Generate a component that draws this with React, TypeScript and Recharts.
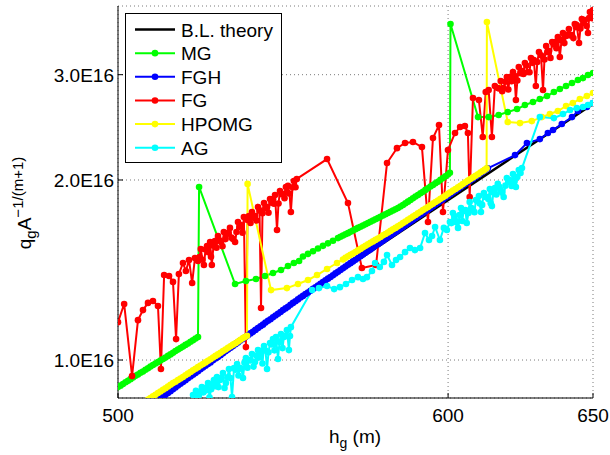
import React from 'react';
import { LineChart, Line, XAxis, YAxis, CartesianGrid } from 'recharts';

type Pt = [number, number];

// x: h_g (m), y: q_g A^(-1/(m+1)) in units of 1E16
const X_TICKS = [500, 600, 650];
const Y_TICKS = [1, 2, 3];
const Y_TICK_LABELS = ['1.0E16', '2.0E16', '3.0E16'];
const X_DOMAIN: [number, number] = [500, 650];
const Y_DOMAIN: [number, number] = [0.864, 3.908];

const SERIES_NAMES = ['B.L. theory', 'MG', 'FGH', 'FG', 'HPOMG', 'AG'];
const SERIES_COLORS = ['#000000', '#00ff00', '#0000ff', '#ff0000', '#ffff00', '#00ffff'];

const BL_THEORY: Pt[] = [[506.1, 0.842], [568.3, 1.44], [650, 2.68]];

const MG: Pt[] = [
  [500.0, 0.901], [500.69, 0.906], [501.38, 0.912], [502.08, 0.918], [502.77, 0.923], [503.47, 0.929],
  [504.16, 0.935], [504.86, 0.941], [505.55, 0.946], [506.25, 0.952], [506.95, 0.957], [507.65, 0.963],
  [508.35, 0.969], [509.05, 0.975], [509.75, 0.981], [510.46, 0.987], [511.16, 0.992], [511.87, 0.998],
  [512.58, 1.004], [513.29, 1.01], [514.0, 1.016], [514.71, 1.022], [515.42, 1.028], [516.13, 1.035],
  [516.84, 1.041], [517.56, 1.047], [518.27, 1.053], [518.99, 1.06], [519.71, 1.066], [520.43, 1.073],
  [521.14, 1.079], [521.87, 1.086], [522.59, 1.093],
  [522.9, 1.947],
  [533.4, 1.34], [536.6, 1.356], [539.6, 1.366], [542.3, 1.382], [544.69, 1.398], [547.1, 1.414],
  [549.22, 1.436], [551.0, 1.453], [552.6, 1.464],
  [553.79, 1.49], [555.32, 1.505], [556.86, 1.52], [558.4, 1.536], [559.94, 1.552], [561.49, 1.567],
  [563.04, 1.583], [564.6, 1.599], [565.38, 1.607], [566.16, 1.615], [566.94, 1.623], [567.72, 1.63],
  [568.5, 1.638], [569.29, 1.646], [570.08, 1.655], [570.87, 1.663], [571.66, 1.671], [572.45, 1.679],
  [573.24, 1.687], [574.03, 1.695], [574.82, 1.703], [575.62, 1.711], [576.41, 1.719], [577.21, 1.727],
  [578.0, 1.736], [578.8, 1.744], [579.6, 1.753], [580.4, 1.761], [581.2, 1.77], [582.01, 1.778],
  [582.82, 1.787], [583.62, 1.796], [584.42, 1.806], [585.23, 1.816], [586.04, 1.828], [586.85, 1.84],
  [587.66, 1.852], [588.47, 1.864], [589.28, 1.876], [590.1, 1.888], [590.92, 1.9], [591.73, 1.912],
  [592.55, 1.925], [593.37, 1.937], [594.19, 1.95], [595.01, 1.962], [595.83, 1.975], [596.65, 1.987],
  [597.48, 2.001], [598.3, 2.015], [599.13, 2.029], [599.96, 2.042], [600.6, 2.056],
  [600.8, 3.646],
  [610.0, 2.548], [613.6, 2.548], [617.0, 2.568], [620.1, 2.598], [623.3, 2.628], [626.0, 2.669],
  [628.8, 2.7], [631.2, 2.732], [633.7, 2.763], [636.1, 2.806], [638.2, 2.839], [640.4, 2.872],
  [642.5, 2.905], [644.6, 2.939], [646.4, 2.961], [648.2, 2.996], [650.0, 3.019],
];

const FGH: Pt[] = [
  [511.16, 0.858], [511.87, 0.864], [512.58, 0.87], [513.29, 0.875], [514.0, 0.881], [514.71, 0.887],
  [515.42, 0.894], [516.13, 0.9], [516.84, 0.907], [517.56, 0.913], [518.27, 0.919], [518.99, 0.925],
  [519.71, 0.932], [520.43, 0.939], [521.14, 0.945], [521.87, 0.951], [522.59, 0.958], [523.31, 0.965],
  [524.03, 0.972], [524.76, 0.978], [525.48, 0.985], [526.21, 0.991], [526.94, 0.999], [527.67, 1.006],
  [528.39, 1.012], [529.12, 1.019], [529.85, 1.026], [530.59, 1.034], [531.32, 1.041], [532.06, 1.048],
  [532.79, 1.055], [533.53, 1.063], [534.26, 1.07], [535.0, 1.078], [535.74, 1.085], [536.48, 1.093],
  [537.22, 1.1], [537.97, 1.108], [538.71, 1.115], [539.46, 1.123], [540.2, 1.131], [540.95, 1.139],
  [541.69, 1.146], [542.44, 1.155], [543.19, 1.163], [543.94, 1.17], [544.69, 1.179], [545.45, 1.187],
  [546.2, 1.195], [546.96, 1.203], [547.71, 1.212], [548.47, 1.22], [549.22, 1.228], [549.98, 1.237],
  [550.74, 1.246], [551.5, 1.254], [552.26, 1.263], [553.03, 1.272], [553.79, 1.28], [554.56, 1.289],
  [555.32, 1.297], [556.09, 1.306], [556.86, 1.315], [557.63, 1.323], [558.4, 1.332], [559.17, 1.341],
  [559.94, 1.35], [560.72, 1.359], [561.49, 1.368], [562.27, 1.377], [563.04, 1.386], [563.82, 1.396],
  [564.6, 1.405], [565.38, 1.414], [566.16, 1.424], [566.94, 1.433], [567.72, 1.443], [568.5, 1.452],
  [569.29, 1.462], [570.08, 1.471], [570.87, 1.481], [571.66, 1.491], [572.45, 1.501], [573.24, 1.511],
  [574.03, 1.521], [574.82, 1.531], [575.62, 1.542], [576.41, 1.552], [577.21, 1.562], [578.0, 1.572],
  [578.8, 1.583], [579.6, 1.593], [580.4, 1.604], [581.2, 1.615], [582.01, 1.626], [582.82, 1.636],
  [583.62, 1.647], [584.42, 1.658], [585.23, 1.669], [586.04, 1.681], [586.85, 1.692], [587.66, 1.703],
  [588.47, 1.714], [589.28, 1.726], [590.1, 1.737], [590.92, 1.749], [591.73, 1.76], [592.55, 1.772],
  [593.37, 1.784], [594.19, 1.796], [595.01, 1.808], [595.83, 1.82], [596.65, 1.832], [597.48, 1.844],
  [598.3, 1.856], [599.13, 1.869], [599.96, 1.881], [600.78, 1.894], [601.6, 1.906], [602.45, 1.919],
  [603.3, 1.932], [604.1, 1.945], [604.9, 1.958], [605.75, 1.971], [606.6, 1.984], [607.45, 1.997],
  [608.3, 2.01], [609.15, 2.024], [610.0, 2.037], [610.8, 2.051], [611.6, 2.064], [612.45, 2.078],
  [613.3, 2.092],
  [622.6, 2.201], [626.7, 2.306], [631.2, 2.341], [634.0, 2.396], [635.8, 2.424], [638.9, 2.481],
  [642.5, 2.548], [644.6, 2.608], [647.8, 2.649], [650.0, 2.69],
];

const FG: Pt[] = [
  [500.0, 1.157], [501.7, 1.241], [503.9, 0.94], [505.55, 1.166], [506.95, 1.212], [508.35, 1.246],
  [509.75, 1.255], [511.16, 1.231], [512.0, 0.966], [512.9, 1.387], [514.3, 1.382], [515.42, 1.351],
  [516.3, 1.084], [517.1, 1.392], [518.27, 1.453], [519.1, 1.409], [520.0, 1.47], [520.9, 1.345],
  [521.7, 1.481],
  [522.59, 1.464], [523.02, 1.487], [523.4, 1.533], [523.89, 1.471], [524.3, 1.442], [524.76, 1.53],
  [525.2, 1.551], [525.63, 1.514], [526.1, 1.575], [526.35, 1.489], [526.6, 1.442], [527.08, 1.553],
  [527.5, 1.581], [527.95, 1.541], [528.39, 1.612], [528.83, 1.585], [529.3, 1.575], [529.71, 1.55],
  [530.1, 1.637], [530.59, 1.593], [531.0, 1.624], [531.47, 1.632], [531.9, 1.663], [532.35, 1.602],
  [532.79, 1.593], [533.4, 1.575], [533.82, 1.637], [534.26, 1.701], [534.7, 1.67], [535.1, 1.682],
  [535.59, 1.633], [536.0, 1.734], [536.6, 1.051], [537.07, 1.715], [537.5, 1.741], [537.97, 1.695],
  [538.4, 1.768], [538.86, 1.73], [539.3, 1.741], [539.75, 1.711], [540.2, 1.802], [540.65, 1.779],
  [541.1, 1.222], [541.54, 1.76], [542.0, 1.83], [542.44, 1.796], [542.9, 1.802], [543.34, 1.763],
  [543.8, 1.859], [544.24, 1.833], [544.69, 1.859], [544.99, 1.825], [545.3, 1.888], [545.9, 1.65],
  [546.35, 1.827], [546.8, 1.917], [547.26, 1.893], [547.71, 1.895], [548.17, 1.865], [548.6, 1.947],
  [548.92, 1.907], [549.22, 1.955], [549.68, 1.898], [550.1, 1.768], [550.59, 1.944], [551.0, 1.992],
  [551.5, 1.945], [551.9, 2.008],
  [561.2, 2.168], [567.72, 1.83], [572.1, 1.425], [576.6, 1.442], [580.1, 2.135], [583.3, 2.261],
  [585.9, 2.306], [588.47, 2.315], [591.4, 2.27], [593.37, 1.701], [595.01, 2.35], [597.0, 2.471],
  [598.3, 1.768], [599.96, 2.244], [602.3, 2.397], [604.0, 2.452], [605.6, 2.462], [606.6, 2.397],
  [607.2, 1.873], [608.3, 2.742], [610.3, 2.721], [611.6, 2.36], [612.6, 2.806], [613.6, 2.828],
  [614.7, 2.36], [615.7, 2.872],
  [616.7, 2.85], [617.2, 2.845], [617.7, 2.927], [618.2, 2.815], [618.7, 2.85], [619.3, 2.919],
  [619.8, 2.973], [620.3, 2.833], [620.8, 2.973], [621.4, 2.926], [621.9, 3.031], [622.4, 2.986],
  [622.9, 2.721], [623.4, 2.933], [623.9, 3.09], [624.5, 3.017], [625.0, 3.043], [625.5, 3.009],
  [626.0, 3.138], [626.5, 3.108], [627.0, 3.031], [627.6, 3.029], [628.1, 3.198], [628.6, 3.14],
  [629.1, 3.174], [629.8, 2.872], [630.3, 3.15], [630.9, 3.274], [631.6, 3.232], [632.3, 2.828],
  [632.8, 3.18], [633.4, 3.35], [633.8, 3.271], [634.4, 3.286], [634.9, 3.2], [635.5, 3.401],
  [636.0, 3.369], [636.5, 3.401], [637.0, 3.322], [637.5, 3.468], [638.2, 3.211], [638.8, 3.423],
  [639.3, 3.522], [639.8, 3.388], [640.4, 3.481], [640.9, 3.499], [641.4, 3.577], [641.9, 3.49],
  [642.5, 3.495], [643.0, 3.454], [643.5, 3.646], [643.9, 3.603], [644.2, 3.632], [645.0, 3.389],
  [645.5, 3.582], [646.0, 3.718], [646.6, 3.657], [647.1, 3.703], [647.7, 3.618], [648.2, 3.522],
  [648.6, 3.731], [648.9, 3.818], [649.5, 3.73], [650.0, 3.848],
];

const HPOMG: Pt[] = [
  [508.35, 0.859], [509.05, 0.864], [509.75, 0.87], [510.46, 0.875], [511.16, 0.881], [511.87, 0.886],
  [512.58, 0.892], [513.29, 0.897], [514.0, 0.903], [514.71, 0.909], [515.42, 0.915], [516.13, 0.92],
  [516.84, 0.926], [517.56, 0.931], [518.27, 0.937], [518.99, 0.943], [519.71, 0.949], [520.43, 0.955],
  [521.14, 0.961], [521.87, 0.967], [522.59, 0.973], [523.31, 0.979], [524.03, 0.985], [524.76, 0.991],
  [525.48, 0.997], [526.21, 1.003], [526.94, 1.01], [527.67, 1.016], [528.39, 1.022], [529.12, 1.028],
  [529.85, 1.035], [530.59, 1.041], [531.32, 1.048], [532.06, 1.054], [532.79, 1.061], [533.53, 1.067],
  [534.26, 1.074], [535.0, 1.081], [535.74, 1.088], [536.33, 1.093], [536.92, 1.098],
  [537.1, 1.97],
  [544.1, 1.309], [548.9, 1.319], [552.26, 1.34], [555.32, 1.361], [558.1, 1.387], [561.2, 1.42],
  [564.3, 1.453],
  [566.16, 1.473], [566.94, 1.482], [567.72, 1.491], [568.5, 1.499], [569.29, 1.507], [570.08, 1.516],
  [570.87, 1.525], [571.66, 1.534], [572.45, 1.543], [573.24, 1.552], [574.03, 1.561], [574.82, 1.57],
  [575.62, 1.579], [576.41, 1.588], [577.21, 1.597], [578.0, 1.606], [578.8, 1.616], [579.6, 1.625],
  [580.4, 1.634], [581.2, 1.644], [582.01, 1.654], [582.82, 1.663], [583.62, 1.673], [584.42, 1.683],
  [585.23, 1.694], [586.04, 1.705], [586.85, 1.716], [587.66, 1.726], [588.47, 1.737], [589.28, 1.748],
  [590.1, 1.759], [590.92, 1.77], [591.73, 1.781], [592.55, 1.792], [593.37, 1.803], [594.19, 1.814],
  [595.01, 1.826], [595.83, 1.837], [596.65, 1.848], [597.48, 1.86], [598.3, 1.871], [599.13, 1.883],
  [599.96, 1.896], [600.78, 1.908], [601.6, 1.92], [602.45, 1.932], [603.3, 1.944], [604.1, 1.956],
  [604.9, 1.969], [605.75, 1.982], [606.6, 1.995], [607.45, 2.007], [608.3, 2.02], [609.15, 2.032],
  [610.0, 2.045], [610.8, 2.058], [611.6, 2.071], [612.25, 2.081], [612.9, 2.092],
  [613.0, 3.675],
  [620.1, 2.5], [624.3, 2.49], [628.4, 2.509], [631.9, 2.548], [634.7, 2.578], [637.5, 2.608],
  [640.4, 2.659], [642.8, 2.69], [645.3, 2.732], [647.8, 2.763], [650.0, 2.795],
];

const AG: Pt[] = [
  [521.14, 0.874], [521.57, 0.87], [522.0, 0.888], [522.45, 0.873], [522.9, 0.874], [523.3, 0.886],
  [523.7, 0.901], [524.17, 0.883], [524.6, 0.898], [525.04, 0.89], [525.5, 0.915], [525.92, 0.866],
  [526.4, 0.894], [526.79, 0.908], [527.2, 0.926], [527.67, 0.904], [528.1, 0.937], [528.54, 0.901],
  [529.0, 0.926], [529.41, 0.933], [529.85, 0.951], [530.3, 0.898], [530.7, 0.915], [531.17, 0.936],
  [531.6, 0.966], [532.05, 0.933], [532.5, 0.867], [533.1, 0.97], [533.52, 0.963], [534.0, 0.985],
  [534.41, 0.942], [534.9, 0.97], [535.29, 0.967], [535.74, 0.933], [536.18, 0.99], [536.6, 1.008],
  [537.07, 0.971], [537.5, 1.0], [537.97, 0.998], [538.4, 1.023], [538.86, 0.975], [539.3, 0.992],
  [539.75, 1.017], [540.2, 1.039], [540.65, 1.01], [541.1, 1.035], [541.54, 0.987], [542.0, 1.055],
  [542.44, 1.037], [542.9, 0.966], [543.34, 1.03], [543.8, 1.068], [544.24, 1.062], [544.69, 1.084],
  [545.14, 1.038], [545.6, 1.093], [546.2, 1.004], [546.65, 1.072], [547.1, 1.105], [547.56, 1.047],
  [548.0, 1.093], [548.47, 1.097], [548.9, 1.122], [549.5, 1.039], [549.83, 1.097], [550.1, 1.135],
  [556.6, 1.309], [558.7, 1.319], [561.2, 1.33], [563.4, 1.314], [565.2, 1.324], [567.1, 1.34],
  [569.0, 1.361], [570.87, 1.376], [572.45, 1.366], [573.7, 1.376], [575.3, 1.409], [576.3, 1.453],
  [577.8, 1.431], [579.1, 1.459], [580.1, 1.498], [581.7, 1.442], [583.0, 1.47], [584.3, 1.487],
  [585.9, 1.515], [587.5, 1.539], [589.1, 1.527], [590.8, 1.539], [592.4, 1.631], [593.7, 1.587],
  [594.7, 1.612], [595.7, 1.669], [597.3, 1.587], [598.6, 1.663], [599.6, 1.65],
  [600.6, 1.701], [601.1, 1.694], [601.6, 1.761], [602.1, 1.74], [602.6, 1.707], [602.9, 1.698],
  [603.3, 1.663], [603.8, 1.748], [604.3, 1.796], [604.7, 1.708], [605.2, 1.775], [605.8, 1.782],
  [606.2, 1.695], [606.8, 1.761], [607.2, 1.838], [607.8, 1.795], [608.3, 1.782], [608.8, 1.767],
  [609.3, 1.852], [609.8, 1.843], [610.3, 1.881], [610.6, 1.827], [611.0, 1.768], [611.4, 1.817],
  [612.0, 1.902], [612.5, 1.874], [613.0, 1.873], [613.5, 1.859], [614.0, 1.932], [614.3, 1.828],
  [614.7, 1.809], [615.2, 1.906], [615.7, 1.939], [616.2, 1.891], [616.7, 1.97], [617.2, 1.949],
  [617.7, 1.924], [618.2, 1.905], [618.7, 1.873], [619.3, 1.957], [619.8, 2.015], [620.3, 1.986],
  [620.8, 2.0], [621.4, 1.955], [621.9, 2.046], [622.4, 1.994], [622.9, 1.947], [623.4, 2.024],
  [623.9, 2.078], [624.5, 2.055], [625.0, 2.094],
  [631.2, 2.548], [636.1, 2.538], [639.3, 2.578], [641.8, 2.618], [644.2, 2.638], [646.4, 2.649],
  [648.2, 2.669], [650.0, 2.69],
];

const SERIES_DATA: Pt[][] = [BL_THEORY, MG, FGH, FG, HPOMG, AG];

const FONT = '"Liberation Sans", Arial, Helvetica, sans-serif';
const TICK_LEN = 5;

const toRows = (pts: Pt[]) => pts.map(([h, q]) => ({ h, q }));
const yLabelOf = (v: number) => Y_TICK_LABELS[Y_TICKS.indexOf(v)] ?? String(v);

function LeftTick(props: any) {
  const { x, y, payload } = props;
  return (
    <g>
      <line x1={x} y1={y} x2={x + TICK_LEN} y2={y} stroke="#000" strokeWidth={1} />
      <text x={x - 4} y={y + 7} textAnchor="end" fontSize={19} fontFamily={FONT} fill="#000">
        {yLabelOf(payload.value)}
      </text>
    </g>
  );
}

function RightTick(props: any) {
  const { x, y } = props;
  return <line x1={x - TICK_LEN} y1={y} x2={x} y2={y} stroke="#000" strokeWidth={1} />;
}

function BottomTick(props: any) {
  const { x, y, payload } = props;
  return (
    <g>
      <line x1={x} y1={y} x2={x} y2={y - TICK_LEN} stroke="#000" strokeWidth={1} />
      <text x={x} y={y + 23.5} textAnchor="middle" fontSize={19} fontFamily={FONT} fill="#000">
        {payload.value}
      </text>
    </g>
  );
}

function TopTick(props: any) {
  const { x, y } = props;
  return <line x1={x} y1={y} x2={x} y2={y + TICK_LEN} stroke="#000" strokeWidth={1} />;
}

export default function App() {
  return (
    <div style={{ position: 'absolute', left: 0, top: 0, width: 610, height: 455, background: '#fff' }}>
      <LineChart width={610} height={455} margin={{ top: 6, right: 17, bottom: 0, left: 0 }}>
        <CartesianGrid stroke="#7a7a7a" strokeDasharray="1 3" strokeWidth={1} />
        <XAxis
          xAxisId={0}
          dataKey="h"
          type="number"
          scale="log"
          domain={X_DOMAIN}
          allowDataOverflow
          ticks={X_TICKS}
          interval={0}
          height={57}
          tickSize={0}
          tickMargin={0}
          tickLine={false}
          axisLine={{ stroke: '#000', strokeWidth: 1 }}
          tick={<BottomTick />}
        />
        <XAxis
          xAxisId="top"
          orientation="top"
          type="number"
          scale="log"
          domain={X_DOMAIN}
          allowDataOverflow
          ticks={X_TICKS}
          interval={0}
          height={0}
          tickSize={0}
          tickMargin={0}
          tickLine={false}
          axisLine={{ stroke: '#000', strokeWidth: 1 }}
          tick={<TopTick />}
        />
        <YAxis
          yAxisId={0}
          type="number"
          scale="log"
          domain={Y_DOMAIN}
          allowDataOverflow
          ticks={Y_TICKS}
          interval={0}
          width={118}
          tickSize={0}
          tickMargin={0}
          tickLine={false}
          axisLine={{ stroke: '#000', strokeWidth: 1 }}
          tick={<LeftTick />}
        />
        <YAxis
          yAxisId="right"
          orientation="right"
          type="number"
          scale="log"
          domain={Y_DOMAIN}
          allowDataOverflow
          ticks={Y_TICKS}
          interval={0}
          width={0}
          tickSize={0}
          tickMargin={0}
          tickLine={false}
          axisLine={{ stroke: '#000', strokeWidth: 1 }}
          tick={<RightTick />}
        />
        {SERIES_DATA.map((pts, i) => (
          <Line
            key={SERIES_NAMES[i]}
            xAxisId={0}
            yAxisId={0}
            data={toRows(pts)}
            dataKey="q"
            name={SERIES_NAMES[i]}
            type="linear"
            stroke={SERIES_COLORS[i]}
            strokeWidth={i === 0 ? 2.5 : 2}
            dot={i === 0 ? false : { r: 3.3, fill: SERIES_COLORS[i], stroke: SERIES_COLORS[i], strokeWidth: 0 }}
            activeDot={false}
            isAnimationActive={false}
          />
        ))}
      </LineChart>
      <svg
        width={610}
        height={455}
        style={{ position: 'absolute', left: 0, top: 0, pointerEvents: 'none' }}
      >
        <rect x={125.5} y={13.5} width={156} height={149} fill="#fff" stroke="#000" strokeWidth={1} />
        {SERIES_NAMES.map((n, i) => {
          const cy = 29.5 + i * 23.65;
          return (
            <g key={n}>
              <line x1={135} x2={175} y1={cy} y2={cy} stroke={SERIES_COLORS[i]} strokeWidth={i === 0 ? 2.5 : 2} />
              {i > 0 && <circle cx={155} cy={cy} r={3.3} fill={SERIES_COLORS[i]} />}
              <text x={181} y={cy + 7} fontSize={19} fontFamily={FONT} fill="#000">
                {n}
              </text>
            </g>
          );
        })}
        <text x={355} y={443} textAnchor="middle" fontSize={19} fontFamily={FONT} fill="#000">
          h<tspan fontSize={14} dy={5}>g</tspan>
          <tspan dy={-5}> (m)</tspan>
        </text>
        <text transform="translate(31,203) rotate(-90)" textAnchor="middle" fontSize={19} fontFamily={FONT} fill="#000">
          q<tspan fontSize={15} dy={5}>g</tspan>
          <tspan dy={-5}>A</tspan>
          <tspan fontSize={15} dy={-8}>−1/(m+1)</tspan>
        </text>
      </svg>
    </div>
  );
}
